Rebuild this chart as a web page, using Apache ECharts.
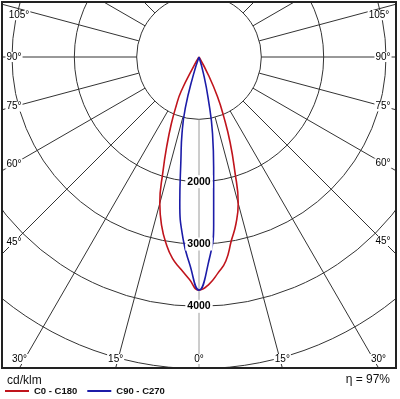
<!DOCTYPE html>
<html>
<head>
<meta charset="utf-8">
<title></title>
<style>body{margin:0;background:#fff}</style>
</head>
<body>
<div id="container" style="width:400px;height:399px"></div>
<script src="https://cdn.jsdelivr.net/npm/echarts@6/dist/echarts.min.js"></script>
<script>
// gamma angles (deg from nadir) and intensities in cd/klm
var gammas = [0, 2.5, 5, 7.5, 10, 12.5, 15, 17.5, 20, 22.5, 25, 27.5, 30, 32.5, 35];
var c0   = [3740, 3650, 3480, 3300, 2990, 2740, 2430, 1900, 1460, 1040, 700, 330, 0, 0, 0];
var c180 = [3740, 3570, 3410, 3260, 3040, 2770, 2430, 1920, 1500, 1160, 870, 620, 150, 0, 0];
var c90  = [3740, 3330, 2700, 1800, 1250, 680, 280, 0, 0, 0, 0, 0, 0, 0, 0];
var c270 = [3740, 3340, 2930, 2360, 1670, 1260, 850, 300, 0, 0, 0, 0, 0, 0, 0];
var ringLabels = [2000, 3000, 4000];
var angleLabels = [0, 15, 30, 45, 60, 75, 90, 105];
var seriesNames = ['C0 - C180', 'C90 - C270'];

var FONT = 'Liberation Sans';
var frame = {x1: 2, y1: 2, x2: 396, y2: 368};

function half(vals) {
    var out = [];
    for (var i = 0; i < vals.length; i++) {
        out.push([vals[i], gammas[i]]);
        if (vals[i] === 0) break;
    }
    return out;
}
// one plane: left half at 360-g, right half at g
function plane(right, left) {
    var l = half(left).map(function (p) { return [p[0], 360 - p[1]]; }).reverse();
    var r = half(right).slice(1);
    return l.concat(r);
}

var lineColors = ['#9a9a9a'];
for (var i = 1; i < 24; i++) lineColors.push('#333');

var dom = document.getElementById('container');
var myChart = echarts.init(dom);

var option = {
    animation: false,
    textStyle: {fontFamily: FONT},
    polar: [
        {center: [199, 57], radius: [62.33, 374]},
        {center: [199, 57], radius: 374}
    ],
    angleAxis: [{
        polarIndex: 0, type: 'value', min: 0, max: 360, interval: 15,
        startAngle: 270, clockwise: false,
        axisLine: {show: false}, axisTick: {show: false}, axisLabel: {show: false},
        splitLine: {show: true, lineStyle: {color: lineColors, width: 1}}
    }, {
        polarIndex: 1, type: 'value', min: 0, max: 360,
        startAngle: 270, clockwise: false, show: false
    }],
    radiusAxis: [{
        polarIndex: 0, type: 'value', min: 0, max: 6000, show: false
    }, {
        polarIndex: 1, type: 'value', min: 0, max: 6000, interval: 1000,
        axisLine: {show: false}, axisTick: {show: false}, axisLabel: {show: false},
        splitLine: {show: true, lineStyle: {color: '#333', width: 1}}
    }],
    legend: {
        left: 5, top: 386, padding: 0,
        itemWidth: 24, itemHeight: 2, itemGap: 10, icon: 'rect',
        textStyle: {fontSize: 9.5, fontWeight: 'bold', color: '#111', fontFamily: FONT},
        data: seriesNames, z: 200
    },
    series: [{
        name: seriesNames[0], type: 'line', coordinateSystem: 'polar', polarIndex: 1,
        data: plane(c0, c180), showSymbol: false, smooth: 0.5, z: 5,
        lineStyle: {color: '#c0141c', width: 1.6}, itemStyle: {color: '#c0141c'}
    }, {
        name: seriesNames[1], type: 'line', coordinateSystem: 'polar', polarIndex: 1,
        data: plane(c90, c270), showSymbol: false, smooth: 0.5, z: 6,
        lineStyle: {color: '#1c1ca8', width: 1.6}, itemStyle: {color: '#1c1ca8'}
    }]
};
myChart.setOption(option);

// mask outside the frame, then frame and labels
var g = [
    {type: 'rect', z: 50, shape: {x: 0, y: 0, width: 400, height: frame.y1}, style: {fill: '#fff'}},
    {type: 'rect', z: 50, shape: {x: 0, y: 0, width: frame.x1, height: 399}, style: {fill: '#fff'}},
    {type: 'rect', z: 50, shape: {x: frame.x2, y: 0, width: 400 - frame.x2, height: 399}, style: {fill: '#fff'}},
    {type: 'rect', z: 50, shape: {x: 0, y: frame.y2, width: 400, height: 399 - frame.y2}, style: {fill: '#fff'}},
    {type: 'rect', z: 51, shape: {x: frame.x1, y: frame.y1, width: frame.x2 - frame.x1, height: frame.y2 - frame.y1},
        style: {fill: 'none', stroke: '#222', lineWidth: 2}}
];

var c = myChart.convertToPixel({polarIndex: 1}, [0, 0]);
ringLabels.forEach(function (v) {
    var p = myChart.convertToPixel({polarIndex: 1}, [v, 0]);
    g.push({type: 'text', z: 60, x: p[0], y: p[1], style: {
        text: String(v), font: 'bold 10.5px "' + FONT + '"', fill: '#000',
        align: 'center', verticalAlign: 'middle', backgroundColor: '#fff', padding: [1, 2]
    }});
});

angleLabels.forEach(function (a) {
    [a, 360 - a].forEach(function (ang, k) {
        if (a === 0 && k === 1) return;
        var far = myChart.convertToPixel({polarIndex: 1}, [6000, ang]);
        var dx = far[0] - c[0], dy = far[1] - c[1];
        var x, y;
        var tSide = Math.abs(dx) > 1e-6 ? (dx > 0 ? (frame.x2 - c[0]) / dx : (frame.x1 - c[0]) / dx) : Infinity;
        var tBot = dy > 1e-6 ? (frame.y2 - c[1]) / dy : Infinity;
        if (tBot < tSide) {
            x = c[0] + dx * tBot;
            y = frame.y2 - 9;
        } else {
            x = dx > 0 ? frame.x2 - 13 : frame.x1 + 12;
            y = c[1] + (x - c[0]) * dy / dx;
            if (y < frame.y1 + 13) {
                y = frame.y1 + 13;
                x += dx > 0 ? -4 : 5;
            }
        }
        g.push({type: 'text', z: 60, x: x, y: y, style: {
            text: a + '°', font: '10px "' + FONT + '"', fill: '#000',
            align: 'center', verticalAlign: 'middle', backgroundColor: '#fff', padding: [0, 1]
        }});
    });
});

g.push({type: 'text', z: 200, x: 7, y: 381, style: {
    text: 'cd/klm', font: '12px "' + FONT + '"', fill: '#111', align: 'left', verticalAlign: 'middle'
}});
g.push({type: 'text', z: 200, x: 390, y: 380, style: {
    text: 'η = 97%', font: '12px "' + FONT + '"', fill: '#111', align: 'right', verticalAlign: 'middle'
}});

myChart.setOption({graphic: g});
</script>
</body>
</html>
